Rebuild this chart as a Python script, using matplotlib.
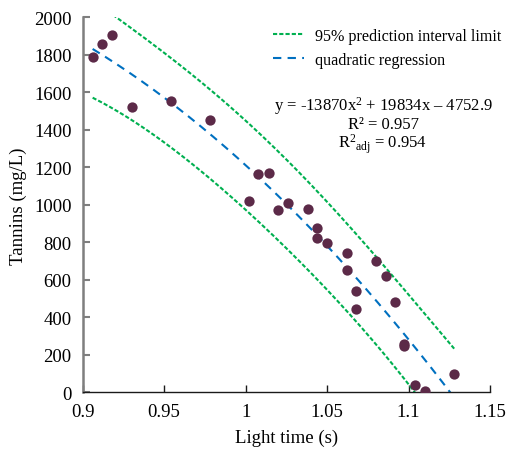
import numpy as np
import matplotlib
matplotlib.use("Agg")
import matplotlib.pyplot as plt

plt.rcParams['font.family'] = ['Liberation Serif', 'DejaVu Serif']
plt.rcParams['mathtext.fontset'] = 'custom'
plt.rcParams['mathtext.rm'] = 'Liberation Serif'
plt.rcParams['mathtext.it'] = 'Liberation Serif'

# Data
light_time = [0.9061, 0.912, 0.918, 0.930, 0.954, 0.978, 1.0018, 1.0077, 1.0141,
              1.020, 1.026, 1.038, 1.0439, 1.0439, 1.050, 1.062, 1.062, 1.0677,
              1.0677, 1.0798, 1.0859, 1.0916, 1.0975, 1.0975, 1.1039, 1.110, 1.128]
tannins = [1787, 1857, 1905, 1523, 1555, 1452, 1019, 1166, 1171,
           972, 1008, 978, 877, 821, 796, 741, 652, 539,
           444, 699, 619, 480, 258, 245, 41, 5, 98]

# Quadratic regression coefficients (as displayed)
coef_a = -13870.0
coef_b = 19834.0
coef_c = -4752.9
t_crit = 1.93  # critical value used for the interval width

xlim = [0.9, 1.15]
ylim = [0, 2000]
xticks = [0.9, 0.95, 1.0, 1.05, 1.1, 1.15]
xticklabels = ['0.9', '0.95', '1', '1.05', '1.1', '1.15']
yticks = [0, 200, 400, 600, 800, 1000, 1200, 1400, 1600, 1800, 2000]

x = np.array(light_time)
y = np.array(tannins)

def quad(v):
    return coef_a * v**2 + coef_b * v + coef_c

# prediction interval from the displayed fit
X = np.column_stack([np.ones_like(x), x, x**2])
resid = y - quad(x)
s = np.sqrt(np.sum(resid**2) / (len(x) - 3))
XtX_inv = np.linalg.inv(X.T @ X)
xs = np.linspace(min(x), max(x), 300)
X0 = np.column_stack([np.ones_like(xs), xs, xs**2])
lev = np.einsum('ij,jk,ik->i', X0, XtX_inv, X0)
hw = t_crit * s * np.sqrt(1 + lev)
yfit = quad(xs)

fig = plt.figure(figsize=(5.08, 4.52), dpi=100)
ax = fig.add_axes([0.1628, 0.1299, 0.8018, 0.8296])

green = '#00B050'
blue = '#0070C0'
ax.plot(xs, yfit + hw, color=green, lw=1.5, ls=(0, (2, 1)), label='95% prediction interval limit')
ax.plot(xs, yfit, color=blue, lw=1.5, ls=(0, (4, 3)), label='quadratic regression')
ax.plot(xs, yfit - hw, color=green, lw=1.5, ls=(0, (2, 1)))
ax.scatter(x, y, s=55, color='#5C2A48', zorder=3, linewidths=0)

ax.set_xlim(xlim)
ax.set_ylim(ylim)
ax.set_xticks(xticks)
ax.set_xticklabels(xticklabels)
ax.set_yticks(yticks)

for sp in ['top', 'right']:
    ax.spines[sp].set_visible(False)
ax.spines['left'].set_color('#7f7f7f')
ax.spines['left'].set_linewidth(1.8)
ax.spines['bottom'].set_color('#1a1a1a')
ax.spines['bottom'].set_linewidth(1.0)
ax.tick_params(axis='y', direction='in', length=5, color='#7f7f7f', width=1.5, labelsize=13.5, pad=8)
ax.tick_params(axis='x', direction='in', length=5, color='#1a1a1a', width=1.0, labelsize=13.5, pad=8)

ax.set_xlabel('Light time (s)', fontsize=13.5, labelpad=6)
ax.set_ylabel('Tannins (mg/L)', fontsize=13.5, labelpad=5)

leg = fig.legend(handles=ax.get_lines()[:2], loc='upper left', bbox_to_anchor=(273 / 508, 1 - 29 / 452),
                 frameon=False, fontsize=11.6, borderpad=0, borderaxespad=0,
                 handlelength=1.95, handletextpad=0.65, labelspacing=0.5)

fig.text(0.754, 1 - 106 / 452, 'y = -13870x$^{2}$ + 19834x \u2013 4752.9', ha='center', va='center', fontsize=12)
fig.text(0.754, 1 - 125 / 452, 'R\u00b2 = 0.957', ha='center', va='center', fontsize=12)
fig.text(0.754, 1 - 144 / 452, 'R$^{2}$$_{\\mathrm{adj}}$ = 0.954', ha='center', va='center', fontsize=12)

fig.savefig('out.png', dpi=100)
